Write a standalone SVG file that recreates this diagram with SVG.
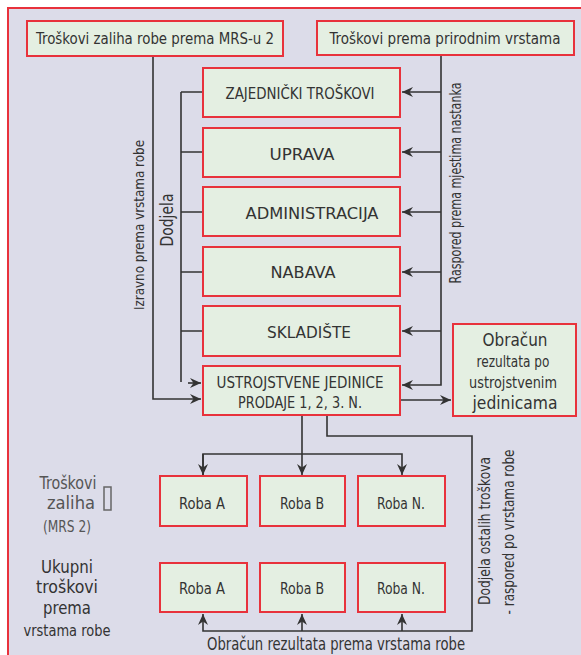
<svg xmlns="http://www.w3.org/2000/svg" width="581" height="655" viewBox="0 0 581 655">
<style>
text{font-family:"DejaVu Sans Condensed","DejaVu Sans","Liberation Sans",sans-serif;fill:#333333;}
.box{fill:#e4efe2;stroke:#e8323c;stroke-width:2;}
.c{text-anchor:middle;}
.ln{fill:none;stroke:#333333;stroke-width:1.6;}
.t16{font-size:16px;}
.t15{font-size:15px;}
.t14{font-size:14px;}
.t13{font-size:13px;}
.lbl{fill:#555555;}
</style>
<defs>
<marker id="ah" markerUnits="userSpaceOnUse" markerWidth="12" markerHeight="10" refX="11" refY="5" orient="auto">
<path d="M0,0 L11,5 L0,10 L3.5,5 z" fill="#333333"/>
</marker>
</defs>
<rect x="0" y="0" width="581" height="655" fill="#ffffff"/>
<rect x="8" y="8" width="600" height="700" fill="#dcdce9" stroke="#e8323c" stroke-width="2"/>

<g id="connectors">
<path class="ln" d="M153,56 V399 H201" marker-end="url(#ah)"/>
<path class="ln" d="M181,92 V382"/>
<path class="ln" d="M181,92 H203 M181,152 H203 M181,212 H203 M181,272 H203 M181,331 H203"/>
<path class="ln" d="M188,383 H201" marker-end="url(#ah)"/>
<path class="ln" d="M441,55 V385 H402" marker-end="url(#ah)"/>
<path class="ln" d="M441,92 H402" marker-end="url(#ah)"/>
<path class="ln" d="M441,152 H402" marker-end="url(#ah)"/>
<path class="ln" d="M441,212 H402" marker-end="url(#ah)"/>
<path class="ln" d="M441,272 H402" marker-end="url(#ah)"/>
<path class="ln" d="M441,331 H402" marker-end="url(#ah)"/>
<path class="ln" d="M400,400 H451" marker-end="url(#ah)"/>
<path class="ln" d="M302,415 V475" marker-end="url(#ah)"/>
<path class="ln" d="M203,475 V454 H402 V475" marker-end="url(#ah)"/>
<path class="ln" d="M203,454 V475" marker-end="url(#ah)"/>
<path class="ln" d="M327,415 V436 H472 V631 H203 V614" marker-end="url(#ah)"/>
<path class="ln" d="M302,631 V614" marker-end="url(#ah)"/>
<path class="ln" d="M402,631 V614" marker-end="url(#ah)"/>
</g>

<g id="top-left">
<rect class="box" x="27" y="21" width="256" height="35"/>
<text class="c t16" x="155" y="44" textLength="238" lengthAdjust="spacingAndGlyphs">Troškovi zaliha robe prema MRS-u 2</text>
</g>
<g id="top-right">
<rect class="box" x="317" y="21" width="257" height="34"/>
<text class="c t16" x="445" y="44" textLength="231" lengthAdjust="spacingAndGlyphs">Troškovi prema prirodnim vrstama</text>
</g>

<g id="zajednicki">
<rect class="box" x="203" y="68" width="197" height="49"/>
<text class="c t16" x="300" y="99" textLength="149" lengthAdjust="spacingAndGlyphs">ZAJEDNIČKI TROŠKOVI</text>
</g>
<g id="uprava">
<rect class="box" x="203" y="128" width="197" height="49"/>
<text class="c t16" x="302" y="160" textLength="65" lengthAdjust="spacingAndGlyphs">UPRAVA</text>
</g>
<g id="administracija">
<rect class="box" x="203" y="187" width="197" height="49"/>
<text class="c t16" x="312" y="219" textLength="133" lengthAdjust="spacingAndGlyphs">ADMINISTRACIJA</text>
</g>
<g id="nabava">
<rect class="box" x="203" y="247" width="197" height="49"/>
<text class="c t16" x="303" y="278" textLength="65" lengthAdjust="spacingAndGlyphs">NABAVA</text>
</g>
<g id="skladiste">
<rect class="box" x="203" y="306" width="197" height="50"/>
<text class="c t16" x="309" y="338" textLength="84" lengthAdjust="spacingAndGlyphs">SKLADIŠTE</text>
</g>
<g id="ustrojstvene">
<rect class="box" x="203" y="366" width="197" height="49"/>
<text class="c t16" x="300" y="388" textLength="167" lengthAdjust="spacingAndGlyphs">USTROJSTVENE JEDINICE</text>
<text class="c t16" x="300" y="408" textLength="124" lengthAdjust="spacingAndGlyphs">PRODAJE 1, 2, 3. N.</text>
</g>
<g id="obracun">
<rect class="box" x="453" y="324" width="123" height="92"/>
<text class="c" x="515" y="346" font-size="18" textLength="65" lengthAdjust="spacingAndGlyphs">Obračun</text>
<text class="c t15" x="513" y="367" textLength="73" lengthAdjust="spacingAndGlyphs">rezultata po</text>
<text class="c t15" x="513" y="388" textLength="88" lengthAdjust="spacingAndGlyphs">ustrojstvenim</text>
<text class="c" x="515" y="409" font-size="17" textLength="85" lengthAdjust="spacingAndGlyphs">jedinicama</text>
</g>

<g id="roba-a-1"><rect class="box" x="160" y="476" width="87" height="50"/><text class="c t16" x="202" y="509" textLength="46" lengthAdjust="spacingAndGlyphs">Roba A</text></g>
<g id="roba-b-1"><rect class="box" x="260" y="476" width="85" height="50"/><text class="c t16" x="302" y="509" textLength="44" lengthAdjust="spacingAndGlyphs">Roba B</text></g>
<g id="roba-n-1"><rect class="box" x="358" y="476" width="87" height="50"/><text class="c t16" x="401" y="509" textLength="48" lengthAdjust="spacingAndGlyphs">Roba N.</text></g>
<g id="roba-a-2"><rect class="box" x="160" y="563" width="87" height="49"/><text class="c t16" x="202" y="594" textLength="46" lengthAdjust="spacingAndGlyphs">Roba A</text></g>
<g id="roba-b-2"><rect class="box" x="260" y="563" width="85" height="49"/><text class="c t16" x="302" y="594" textLength="44" lengthAdjust="spacingAndGlyphs">Roba B</text></g>
<g id="roba-n-2"><rect class="box" x="358" y="563" width="87" height="49"/><text class="c t16" x="401" y="594" textLength="48" lengthAdjust="spacingAndGlyphs">Roba N.</text></g>

<g id="labels">
<text class="c t14" transform="translate(144,225) rotate(-90)" textLength="170" lengthAdjust="spacingAndGlyphs">Izravno prema vrstama robe</text>
<text class="c" font-size="17" transform="translate(173,220) rotate(-90)" textLength="53" lengthAdjust="spacingAndGlyphs">Dodjela</text>
<text class="c t15" transform="translate(461,183) rotate(-90)" textLength="201" lengthAdjust="spacingAndGlyphs">Raspored prema mjestima nastanka</text>
<text class="c t15" transform="translate(490,531) rotate(-90)" textLength="148" lengthAdjust="spacingAndGlyphs">Dodjela ostalih troškova</text>
<text class="c t15" transform="translate(514,532) rotate(-90)" textLength="165" lengthAdjust="spacingAndGlyphs">- raspored po vrstama robe</text>
<text class="c" font-size="17" x="336" y="650" textLength="258" lengthAdjust="spacingAndGlyphs">Obračun rezultata prema vrstama robe</text>

<text class="c lbl" x="68" y="489" font-size="17" textLength="57" lengthAdjust="spacingAndGlyphs">Troškovi</text>
<text class="c lbl" x="71" y="509" font-size="17" textLength="48" lengthAdjust="spacingAndGlyphs">zaliha</text>
<text class="c lbl t15" x="67" y="532" textLength="48" lengthAdjust="spacingAndGlyphs">(MRS 2)</text>
<rect x="104" y="487" width="7" height="23" fill="none" stroke="#666666" stroke-width="1.5"/>
<text class="c" x="67" y="573" font-size="18" textLength="52" lengthAdjust="spacingAndGlyphs">Ukupni</text>
<text class="c" x="67" y="593" font-size="18" textLength="62" lengthAdjust="spacingAndGlyphs">troškovi</text>
<text class="c" x="67" y="614" font-size="18" textLength="48" lengthAdjust="spacingAndGlyphs">prema</text>
<text class="c t15" x="67" y="636" textLength="87" lengthAdjust="spacingAndGlyphs">vrstama robe</text>
</g>
</svg>
